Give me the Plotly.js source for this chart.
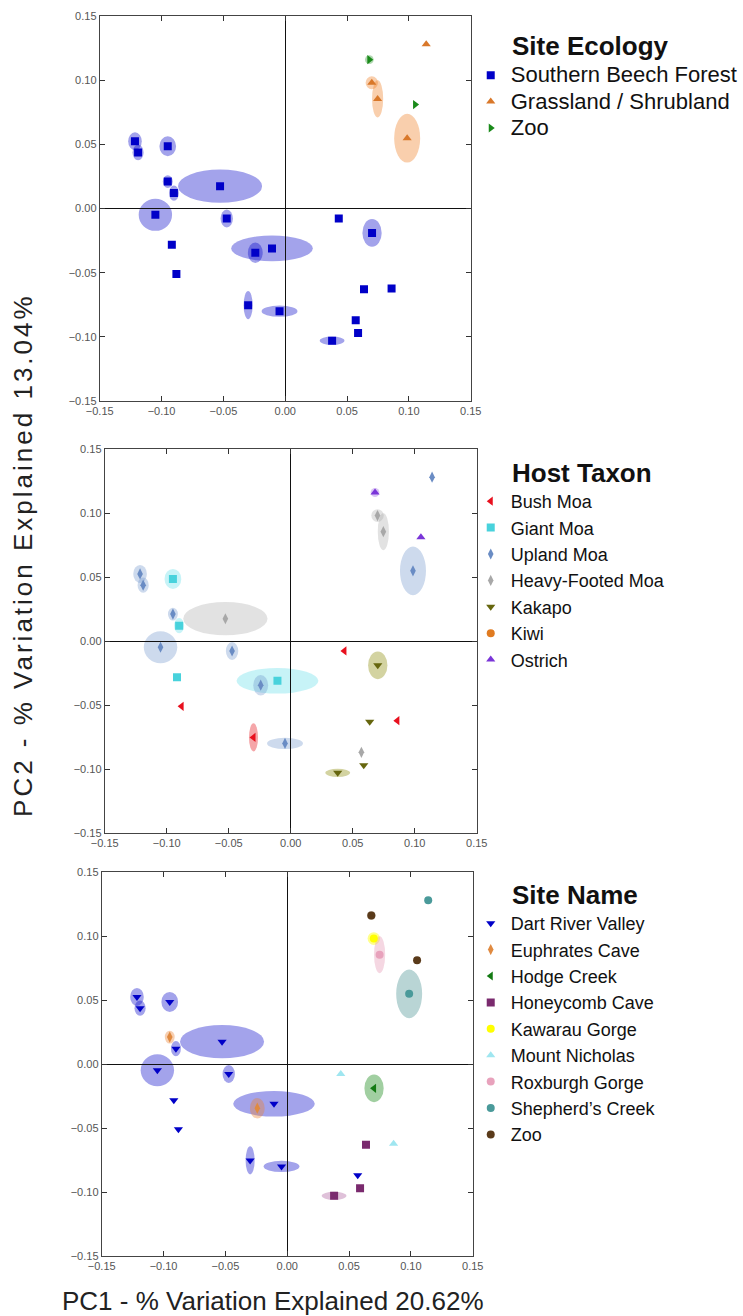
<!DOCTYPE html>
<html>
<head>
<meta charset="utf-8">
<script src="https://cdn.plot.ly/plotly-3.0.1.min.js"></script>
<style>
html,body{margin:0;padding:0;background:#ffffff;}
#chart{width:743px;height:1316px;}
.legendtext{font-size:22px !important;}
</style>
</head>
<body>
<div id="chart"></div>
<script>
// ---- data ----
const pc1 = [0.114, 0.068, 0.070, 0.0747, 0.105, 0.0986, -0.1215, -0.119, -0.095, -0.095,
  -0.090, -0.0527, -0.105, -0.0473, -0.0917, -0.088, -0.0107, -0.0242, 0.0433, 0.0702,
  0.0637, 0.086, -0.030, -0.0046, 0.057, 0.0589, 0.0379];
const pc2 = [0.128, 0.116, 0.098, 0.0854, 0.081, 0.0548, 0.0524, 0.0436, 0.0485, 0.021,
  0.012, 0.0174, -0.0049, -0.0078, -0.0283, -0.051, -0.0311, -0.0345, -0.0078, -0.019,
  -0.063, -0.0623, -0.0753, -0.080, -0.087, -0.0971, -0.103];
// ellipse extent along PC1 / PC2 (0 = no ellipse)
const ellipseWidth = [0, 0.007, 0.010, 0.009, 0, 0.021, 0.011, 0.009, 0.0135, 0.008,
  0.008, 0.068, 0.027, 0.010, 0, 0, 0.066, 0.012, 0, 0.0156,
  0, 0, 0.0073, 0.029, 0, 0, 0.020];
const ellipseHeight = [0, 0.007, 0.010, 0.029, 0, 0.038, 0.014, 0.012, 0.0156, 0.010,
  0.012, 0.026, 0.025, 0.014, 0, 0, 0.020, 0.016, 0, 0.0216,
  0, 0, 0.022, 0.0088, 0, 0, 0.0065];

const ecologyCategories = ['Southern Beech Forest', 'Grassland / Shrubland', 'Zoo'];
const taxonCategories = ['Bush Moa', 'Giant Moa', 'Upland Moa', 'Heavy-Footed Moa', 'Kakapo', 'Kiwi', 'Ostrich'];
const siteCategories = ['Dart River Valley', 'Euphrates Cave', 'Hodge Creek', 'Honeycomb Cave',
  'Kawarau Gorge', 'Mount Nicholas', 'Roxburgh Gorge', 'Shepherd\u2019s Creek', 'Zoo'];

const siteEcology = ['Grassland / Shrubland', 'Zoo', 'Grassland / Shrubland', 'Grassland / Shrubland', 'Zoo',
  'Grassland / Shrubland', 'Southern Beech Forest', 'Southern Beech Forest', 'Southern Beech Forest', 'Southern Beech Forest',
  'Southern Beech Forest', 'Southern Beech Forest', 'Southern Beech Forest', 'Southern Beech Forest', 'Southern Beech Forest',
  'Southern Beech Forest', 'Southern Beech Forest', 'Southern Beech Forest', 'Southern Beech Forest', 'Southern Beech Forest',
  'Southern Beech Forest', 'Southern Beech Forest', 'Southern Beech Forest', 'Southern Beech Forest', 'Southern Beech Forest',
  'Southern Beech Forest', 'Southern Beech Forest'];
const hostTaxon = ['Upland Moa', 'Ostrich', 'Heavy-Footed Moa', 'Heavy-Footed Moa', 'Ostrich',
  'Upland Moa', 'Upland Moa', 'Upland Moa', 'Giant Moa', 'Upland Moa',
  'Giant Moa', 'Heavy-Footed Moa', 'Upland Moa', 'Upland Moa', 'Giant Moa',
  'Bush Moa', 'Giant Moa', 'Upland Moa', 'Bush Moa', 'Kakapo',
  'Kakapo', 'Bush Moa', 'Bush Moa', 'Upland Moa', 'Heavy-Footed Moa',
  'Kakapo', 'Kakapo'];
const siteName = ['Shepherd\u2019s Creek', 'Zoo', 'Kawarau Gorge', 'Roxburgh Gorge', 'Zoo',
  'Shepherd\u2019s Creek', 'Dart River Valley', 'Dart River Valley', 'Dart River Valley', 'Euphrates Cave',
  'Dart River Valley', 'Dart River Valley', 'Dart River Valley', 'Dart River Valley', 'Dart River Valley',
  'Dart River Valley', 'Dart River Valley', 'Euphrates Cave', 'Mount Nicholas', 'Hodge Creek',
  'Honeycomb Cave', 'Mount Nicholas', 'Dart River Valley', 'Dart River Valley', 'Dart River Valley',
  'Honeycomb Cave', 'Honeycomb Cave'];

const tickValues = [-0.15, -0.10, -0.05, 0, 0.05, 0.10, 0.15];
const xTitle = 'PC1 - % Variation Explained 20.62%';
const yTitle = 'PC2 - % Variation Explained 13.04%';
const panelTitles = ['Site Ecology', 'Host Taxon', 'Site Name'];

// ---- styles ----
const styles = {
  'Southern Beech Forest': {symbol: 'square', color: '#0000c8', fill: 'rgba(0,0,200,0.36)'},
  'Grassland / Shrubland': {symbol: 'triangle-up', color: '#d9782a', fill: 'rgba(240,130,40,0.38)'},
  'Zoo|eco': {symbol: 'triangle-right', color: '#1a8a1a', fill: 'rgba(30,140,30,0.35)'},
  'Bush Moa': {symbol: 'triangle-left', color: '#e8101e', fill: 'rgba(230,20,30,0.38)'},
  'Giant Moa': {symbol: 'square', color: '#48d2dc', fill: 'rgba(70,215,230,0.30)'},
  'Upland Moa': {symbol: 'diamond-tall', color: '#6a8cc4', fill: 'rgba(100,140,200,0.32)'},
  'Heavy-Footed Moa': {symbol: 'diamond-tall', color: '#a8a8a8', fill: 'rgba(160,160,160,0.30)'},
  'Kakapo': {symbol: 'triangle-down', color: '#66660e', fill: 'rgba(150,150,30,0.42)'},
  'Kiwi': {symbol: 'circle', color: '#e07b20', fill: 'rgba(224,123,32,0.35)'},
  'Ostrich': {symbol: 'triangle-up', color: '#7a35d8', fill: 'rgba(130,60,220,0.30)'},
  'Dart River Valley': {symbol: 'triangle-down', color: '#0000c8', fill: 'rgba(0,0,200,0.36)'},
  'Euphrates Cave': {symbol: 'diamond-tall', color: '#e08a40', fill: 'rgba(235,130,50,0.38)'},
  'Hodge Creek': {symbol: 'triangle-left', color: '#137a13', fill: 'rgba(30,140,30,0.42)'},
  'Honeycomb Cave': {symbol: 'square', color: '#7a2a6e', fill: 'rgba(150,50,130,0.30)'},
  'Kawarau Gorge': {symbol: 'circle', color: '#ffff00', fill: 'rgba(255,255,0,0.45)'},
  'Mount Nicholas': {symbol: 'triangle-up', color: '#9fe6f0', fill: 'rgba(150,225,240,0.35)'},
  'Roxburgh Gorge': {symbol: 'circle', color: '#e8a2bc', fill: 'rgba(230,150,180,0.38)'},
  'Shepherd\u2019s Creek': {symbol: 'circle', color: '#4a9a9a', fill: 'rgba(70,145,145,0.38)'},
  'Zoo|site': {symbol: 'circle', color: '#5a3a1a', fill: 'rgba(90,58,26,0.30)'}
};

const panels = [
  {cats: ecologyCategories, groups: siteEcology, key: 'eco', legend: 'legend', xa: 'x', ya: 'y'},
  {cats: taxonCategories, groups: hostTaxon, key: 'tax', legend: 'legend2', xa: 'x2', ya: 'y2'},
  {cats: siteCategories, groups: siteName, key: 'site', legend: 'legend3', xa: 'x3', ya: 'y3'}
];
function styleOf(cat, key) { return styles[cat + '|' + key] || styles[cat]; }

const traces = [];
const shapes = [];
panels.forEach(p => {
  pc1.forEach((v, i) => {
    if (ellipseWidth[i] > 0) {
      const st = styleOf(p.groups[i], p.key);
      shapes.push({type: 'circle', xref: p.xa, yref: p.ya, layer: 'below',
        x0: v - ellipseWidth[i] / 2, x1: v + ellipseWidth[i] / 2,
        y0: pc2[i] - ellipseHeight[i] / 2, y1: pc2[i] + ellipseHeight[i] / 2,
        fillcolor: st.fill, line: {width: 0}});
    }
  });
  p.cats.forEach(cat => {
    const idx = p.groups.map((g, i) => g === cat ? i : -1).filter(i => i >= 0);
    const st = styleOf(cat, p.key);
    traces.push({
      type: 'scatter', mode: 'markers', name: cat,
      x: idx.length ? idx.map(i => pc1[i]) : [null],
      y: idx.length ? idx.map(i => pc2[i]) : [null],
      xaxis: p.xa, yaxis: p.ya, legend: p.legend, showlegend: true,
      marker: {symbol: st.symbol, color: st.color, size: 8, line: {width: 0}},
      hoverinfo: 'x+y+name'
    });
  });
});

const axisStyle = {
  range: [-0.15, 0.15], tickmode: 'array', tickvals: tickValues, tickformat: '.2f',
  ticks: 'inside', ticklen: 5, tickwidth: 1, tickcolor: '#333',
  showline: true, linecolor: '#444', linewidth: 1, mirror: 'ticks',
  zeroline: true, zerolinecolor: '#111', zerolinewidth: 1, showgrid: false,
  tickfont: {family: 'Liberation Sans, Arial, sans-serif', size: 11, color: '#555'},
  fixedrange: true
};
const W = 743, H = 1316;
function dx(a, b) { return [a / W, b / W]; }
function dy(top, bottom) { return [(H - bottom) / H, (H - top) / H]; }

const legendBase = {xanchor: 'left', yanchor: 'top', bgcolor: 'rgba(0,0,0,0)',
  font: {family: 'Liberation Sans, Arial, sans-serif', size: 18, color: '#111'},
  tracegroupgap: 0, itemclick: false, itemdoubleclick: false};

const titleFont = {family: 'Liberation Sans, Arial, sans-serif', size: 26, color: '#111', weight: 700};
const labelFont = {family: 'Liberation Sans, Arial, sans-serif', size: 26, color: '#222'};

const layout = {
  width: W, height: H, margin: {l: 0, r: 0, t: 0, b: 0},
  paper_bgcolor: '#ffffff', plot_bgcolor: '#ffffff', showlegend: true,
  xaxis: Object.assign({}, axisStyle, {domain: dx(100, 472), anchor: 'y'}),
  yaxis: Object.assign({}, axisStyle, {domain: dy(16, 401), anchor: 'x'}),
  xaxis2: Object.assign({}, axisStyle, {domain: dx(105, 478), anchor: 'y2'}),
  yaxis2: Object.assign({}, axisStyle, {domain: dy(449, 833), anchor: 'x2'}),
  xaxis3: Object.assign({}, axisStyle, {domain: dx(102, 474), anchor: 'y3'}),
  yaxis3: Object.assign({}, axisStyle, {domain: dy(872, 1256), anchor: 'x3'}),
  legend: Object.assign({}, legendBase, {x: 472 / W, y: (H - 57) / H}),
  legend2: Object.assign({}, legendBase, {x: 472 / W, y: (H - 483) / H}),
  legend3: Object.assign({}, legendBase, {x: 472 / W, y: (H - 905) / H}),
  shapes: shapes,
  annotations: [
    {text: panelTitles[0], xref: 'paper', yref: 'paper', x: 511 / W, y: (H - 46) / H, xanchor: 'left', yanchor: 'middle', showarrow: false, font: titleFont},
    {text: panelTitles[1], xref: 'paper', yref: 'paper', x: 511 / W, y: (H - 473) / H, xanchor: 'left', yanchor: 'middle', showarrow: false, font: titleFont},
    {text: panelTitles[2], xref: 'paper', yref: 'paper', x: 511 / W, y: (H - 895) / H, xanchor: 'left', yanchor: 'middle', showarrow: false, font: titleFont},
    {text: xTitle, xref: 'paper', yref: 'paper', x: 274 / W, y: (H - 1301) / H, xanchor: 'center', yanchor: 'middle', showarrow: false, font: labelFont},
    {text: '<span style="letter-spacing:3px">' + yTitle + '</span>', xref: 'paper', yref: 'paper', x: 23 / W, y: (H - 555) / H, xanchor: 'center', yanchor: 'middle', textangle: -90, showarrow: false, font: labelFont}
  ]
};

Plotly.newPlot('chart', traces, layout, {displayModeBar: false, staticPlot: true});
</script>
</body>
</html>
